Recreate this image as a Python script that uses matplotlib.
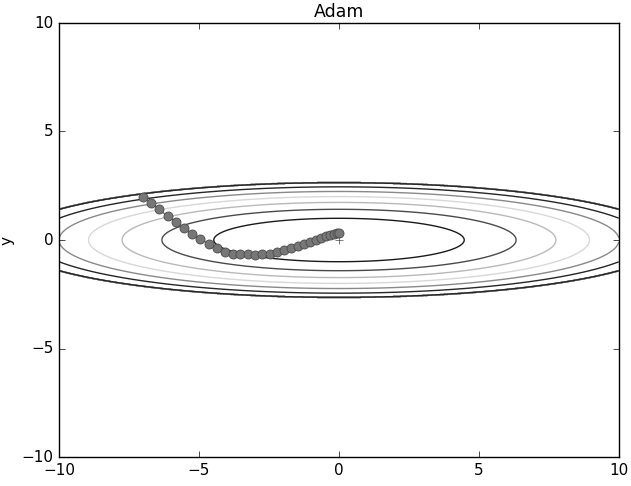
import numpy as np
import matplotlib
matplotlib.use("Agg")
import matplotlib.pyplot as plt

# path of the optimizer
path_x = [-7.01, -6.71, -6.42, -6.12, -5.82, -5.54, -5.24, -4.95, -4.65, -4.37,
          -4.08, -3.79, -3.54, -3.26, -3.00, -2.74, -2.48, -2.21, -1.96, -1.71,
          -1.48, -1.25, -1.04, -0.82, -0.63, -0.46, -0.31, -0.17, -0.08, 0.00]
path_y = [1.98, 1.72, 1.41, 1.09, 0.84, 0.57, 0.29, 0.06, -0.18, -0.38,
          -0.54, -0.66, -0.63, -0.66, -0.68, -0.66, -0.63, -0.55, -0.48, -0.38,
          -0.29, -0.18, -0.09, 0.01, 0.11, 0.18, 0.25, 0.29, 0.31, 0.32]

levels = [1, 2, 3, 4, 5, 6]
level_colors = ["#1a1a1a", "#4a4a4a", "#b9b9b9", "#d8d8d8", "#898989", "#262626"]
ticks = [-10, -5, 0, 5, 10]
cut = 7


def f(x, y):
    return x**2 / 20.0 + y**2


x = np.arange(-10, 10, 0.01)
y = np.arange(-5, 5, 0.01)
X, Y = np.meshgrid(x, y)
Z = f(X, Y)
Z[Z > cut] = 0

plt.style.use("classic")
plt.rcParams["font.size"] = 11

fig = plt.figure(figsize=(6.31, 4.86), dpi=100, facecolor="white")
ax = fig.add_axes([59 / 631, 1 - 457 / 486, 560 / 631, 434 / 486])

ax.contour(X, Y, Z, levels=levels, colors=level_colors, linewidths=1.0)
ax.plot(path_x, path_y, "o-", color="#777777", mec="#4a4a4a", mew=0.6,
        ms=6.5, lw=1.0, zorder=3)
ax.plot(0, 0, "+", color="#4b4b4b", ms=6)

ax.set_xlim(-10, 10)
ax.set_ylim(-10, 10)
ax.set_xticks(ticks)
ax.set_yticks(ticks)
ax.set_title("Adam", fontsize=12.5, pad=4)
ax.set_ylabel("y")

fig.savefig("out.png", dpi=100, facecolor="white")
